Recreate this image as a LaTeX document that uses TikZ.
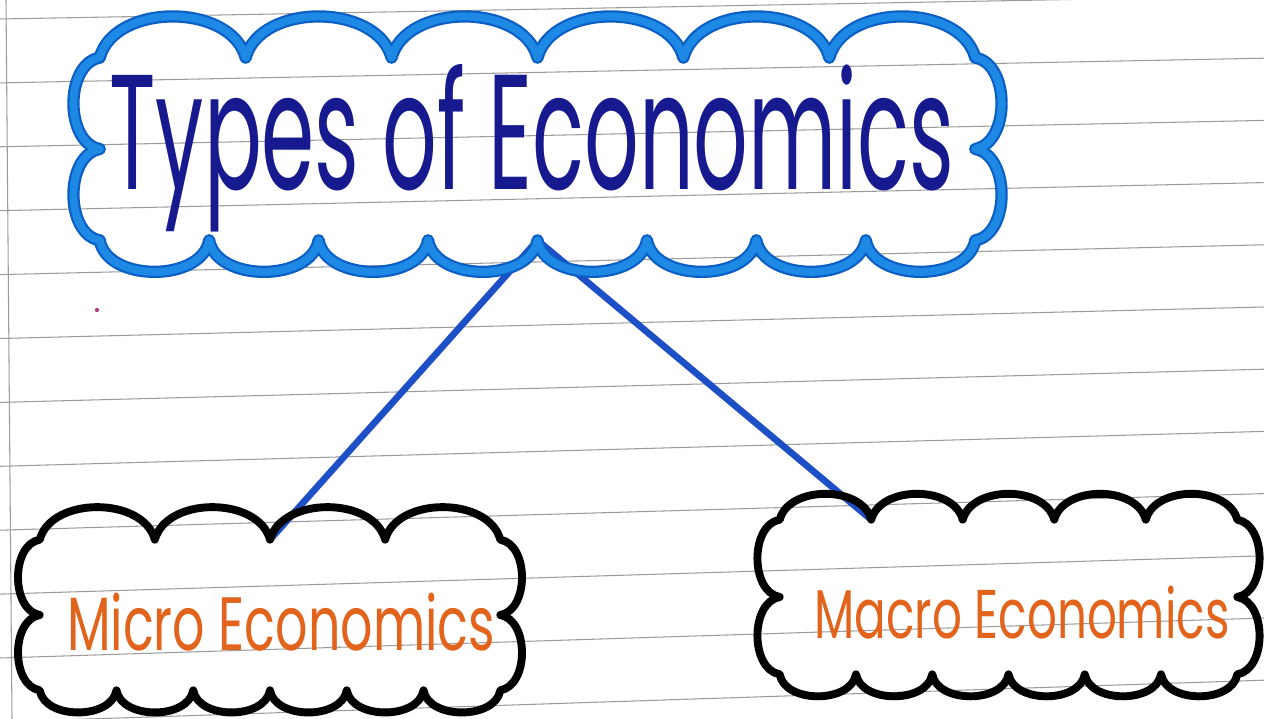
\documentclass[tikz,border=0pt]{standalone}
\usepackage{fontspec}
\setmainfont{Poppins}
\usetikzlibrary{calc}
\definecolor{paperline}{HTML}{9C9C9C}
\definecolor{markerblue}{HTML}{1E88E5}
\definecolor{markerdark}{HTML}{0B5EC4}
\definecolor{inkblue}{HTML}{161A8E}
\definecolor{linkblue}{HTML}{1D4FC6}
\definecolor{sketchorange}{HTML}{E2641C}
\tikzset{
    ruled/.style = {
        draw=paperline,
        line width=0.6pt
    },
    cloudbox/.style = {
        shape=rectangle,
        inner sep=0pt
    },
    bluemarker/.style = {
        draw=markerblue,
        line width=4.5pt,
        line join=round,
        preaction={draw=markerdark, line width=7pt, line join=round}
    },
    blackmarker/.style = {
        draw=black,
        line width=4.5pt,
        line join=round
    },
    heading/.style = {
        anchor=base,
        inner sep=0pt,
        text=inkblue
    },
    branch/.style = {
        anchor=base,
        inner sep=0pt,
        text=sketchorange
    },
    link/.style = {
        draw=linkblue,
        line width=3.8pt
    },
}
% puffs round a rectangular node: #1 node, #2 top puffs, #3 bottom puffs, #4 side puffs, #5 style
\newcommand{\puffcloud}[5]{%
    \draw[#5] (#1.north west)
        \foreach \i in {1,...,#2} { to[bend left=75] ($(#1.north west)!\i/#2!(#1.north east)$) }
        \foreach \i in {1,...,#4} { to[bend left=80] ($(#1.north east)!\i/#4!(#1.south east)$) }
        \foreach \i in {1,...,#3} { to[bend left=80] ($(#1.south east)!\i/#3!(#1.south west)$) }
        \foreach \i in {2,...,#4} { to[bend left=80] ($(#1.south west)!\i/#4-1/#4!(#1.north west)$) }
        to[bend left=80] cycle;
}

\begin{document}
\begin{tikzpicture}[x=0.02cm, y=-0.02cm]
    \fill[white] (0,0) rectangle (1264,719);
    \useasboundingbox (0,0) rectangle (1264,719);

    % ruled paper
    \foreach \k in {0,...,11}
        \draw[ruled] (0,{19+63.9*\k}) -- (1264,{-4+62.2*\k});
    \draw[ruled] (6,0) -- (12,719);
    \fill[magenta!70!black] (97,310) circle (1.2pt);

    \node[cloudbox, minimum width=17.5cm, minimum height=3.64cm] (types) at (537.5,149) {};
    \node[cloudbox, minimum width=9.2cm, minimum height=3cm] (micro) at (270,615) {};
    \node[cloudbox, minimum width=9.14cm, minimum height=3.08cm] (macro) at (1008.5,597) {};

    \path[link] (types.south) -- (micro.north);
    \path[link] (types.south) -- ($(macro.north west)!0.2!(macro.north east)$);

    \puffcloud{types}{6}{8}{2}{bluemarker}
    \puffcloud{micro}{4}{6}{2}{blackmarker}
    \puffcloud{macro}{5}{6}{2}{blackmarker}

    \node[heading] (typestext) at (532,190) {\resizebox{16.9cm}{2.5cm}{Types of Economics}};
    \node[branch] (microtext) at (281,650) {\resizebox{8.56cm}{1.15cm}{Micro Economics}};
    \node[branch] (macrotext) at (1022,638) {\resizebox{8.3cm}{1.05cm}{Macro Economics}};
\end{tikzpicture}
\end{document}
